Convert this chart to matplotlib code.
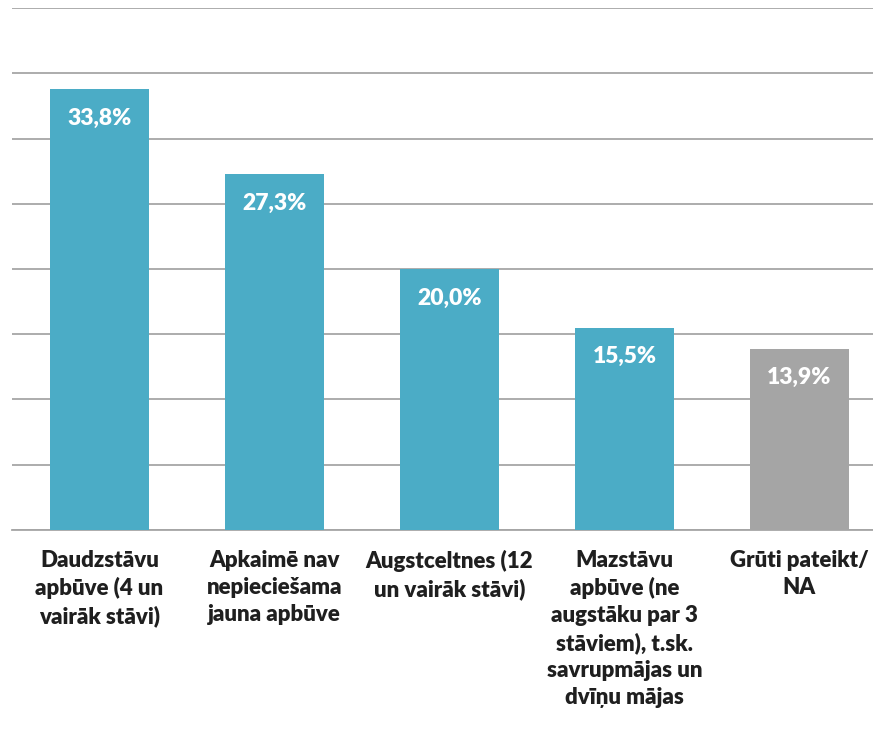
import numpy as np
import matplotlib.pyplot as plt

categories = [
    "Daudzstāvu\napbūve (4 un\nvairāk stāvi)",
    "Apkaimē nav\nnepieciešama\njauna apbūve",
    "Augstceltnes (12\nun vairāk stāvi)",
    "Mazstāvu\napbūve (ne\naugstāku par 3\nstāviem), t.sk.\nsavrupmājas un\ndvīņu mājas",
    "Grūti pateikt/\nNA",
]
values = [33.8, 27.3, 20.0, 15.5, 13.9]
labels = ["33,8%", "27,3%", "20,0%", "15,5%", "13,9%"]
colors = ["#4BACC6", "#4BACC6", "#4BACC6", "#4BACC6", "#A5A5A5"]

plt.rcParams['font.family'] = ['Lato', 'DejaVu Sans']

fig = plt.figure(figsize=(8.73, 7.32), dpi=100)
ax = fig.add_axes([0.0137, 0.276, 1.0023, 0.713])

x = np.arange(len(values))
bars = ax.bar(x, values, width=0.57, color=colors, zorder=3)

for b, lab in zip(bars, labels):
    ax.annotate(lab, (b.get_x() + b.get_width() / 2, b.get_height()),
                xytext=(0, -21), textcoords='offset points',
                ha='center', va='center', color='white',
                fontsize=16.5, fontweight='heavy', zorder=4)

ax.set_ylim(0, 40)
ax.set_xlim(-0.5, len(values) - 0.5)
ax.set_yticks(np.arange(0, 41, 5))
ax.yaxis.grid(True, color='#A6A6A6', linewidth=1.3, zorder=0)
ax.tick_params(axis='y', left=False, labelleft=False)
ax.tick_params(axis='x', bottom=False, pad=11)
ax.set_xticks(x)
ax.set_xticklabels(categories, fontsize=16, fontweight='heavy', color='#1F1F1F',
                   linespacing=1.34)
for s in ['top', 'right', 'left']:
    ax.spines[s].set_visible(False)
ax.spines['bottom'].set_color('#A6A6A6')
ax.spines['bottom'].set_linewidth(1.3)

fig.savefig('out.png', dpi=100)
